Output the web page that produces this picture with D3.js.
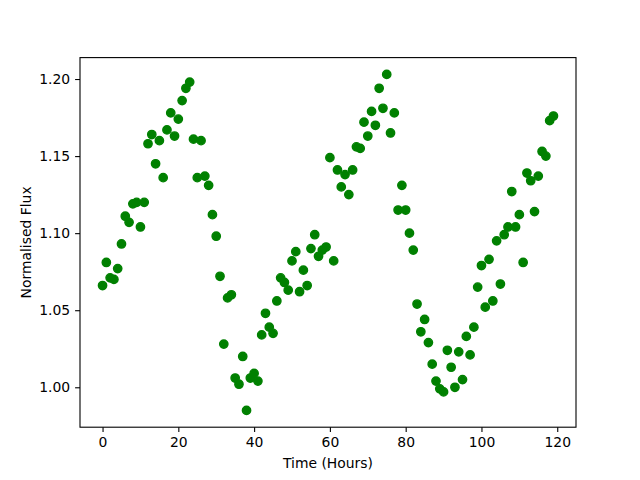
<!DOCTYPE html>
<html>
<head>
<meta charset="utf-8">
<script src="https://cdn.jsdelivr.net/npm/d3@7"></script>
<style>
   body { margin: 0; background: #fff; }
   text { font-family: "DejaVu Sans", sans-serif; fill: #000; }
   .tick text { font-size: 10pt; }
   .axisLabel { font-size: 10pt; }
</style>
</head>
<body>
<div id="chart"></div>
<script>
const width = 640;
const height = 480;

const margin = {
   top: 57.6,
   right: 64,
   bottom: 52.8,
   left: 80
};

// hours 0..119, one reading per hour
const hours = d3.range(0, 120);

const flux = [
   1.066, 1.081, 1.071, 1.070, 1.077, 1.093, 1.111, 1.107, 1.119, 1.120,
   1.104, 1.120, 1.158, 1.164, 1.145, 1.160, 1.136, 1.167, 1.178, 1.163,
   1.174, 1.186, 1.194, 1.198, 1.161, 1.136, 1.160, 1.137, 1.131, 1.112,
   1.098, 1.072, 1.028, 1.058, 1.060, 1.006, 1.002, 1.020, 0.985, 1.006,
   1.009, 1.004, 1.034, 1.048, 1.039, 1.035, 1.056, 1.071, 1.068, 1.063,
   1.082, 1.088, 1.062, 1.076, 1.066, 1.090, 1.099, 1.085, 1.089, 1.091,
   1.149, 1.082, 1.141, 1.130, 1.138, 1.125, 1.141, 1.156, 1.155, 1.172,
   1.163, 1.179, 1.170, 1.194, 1.181, 1.203, 1.165, 1.178, 1.115, 1.131,
   1.115, 1.100, 1.089, 1.054, 1.036, 1.044, 1.029, 1.015, 1.004, 0.999,
   0.997, 1.024, 1.013, 1.000, 1.023, 1.005, 1.033, 1.021, 1.039, 1.065,
   1.079, 1.052, 1.083, 1.056, 1.095, 1.067, 1.099, 1.104, 1.127, 1.104,
   1.112, 1.081, 1.139, 1.134, 1.114, 1.137, 1.153, 1.150, 1.173, 1.176
];

const xTicks = [0, 20, 40, 60, 80, 100, 120];
const yTicks = [1.00, 1.05, 1.10, 1.15, 1.20];

const xLabel = "Time (Hours)";
const yLabel = "Normalised Flux";

const points = hours.map((h, i) => ({ t: h, f: flux[i] }));

const svg = d3.select("#chart").append("svg")
   .attr("width", width)
   .attr("height", height);

// matplotlib style 5% padding on each side
function padded(ext) {
   const pad = (ext[1] - ext[0]) * 0.05;
   return [ext[0] - pad, ext[1] + pad];
}

const x = d3.scaleLinear()
   .domain(padded(d3.extent(hours)))
   .range([margin.left, width - margin.right]);

const y = d3.scaleLinear()
   .domain(padded(d3.extent(flux)))
   .range([height - margin.bottom, margin.top]);

// points
svg.append("g")
   .selectAll("circle")
   .data(points)
   .enter()
   .append("circle")
   .attr("cx", d => x(d.t))
   .attr("cy", d => y(d.f))
   .attr("r", 4.17)
   .style("fill", "#008000")
   .style("stroke", "#008000")
   .style("stroke-width", 1.39);

// axes
const xAxis = svg.append("g")
   .attr("transform", `translate(0,${height - margin.bottom})`)
   .call(d3.axisBottom(x).tickValues(xTicks).tickSize(4.9).tickPadding(4.9).tickFormat(d3.format("d")));

const yAxis = svg.append("g")
   .attr("transform", `translate(${margin.left},0)`)
   .call(d3.axisLeft(y).tickValues(yTicks).tickSize(4.9).tickPadding(4.9).tickFormat(d3.format(".2f")));

svg.selectAll(".domain").remove();
svg.selectAll(".tick line").attr("stroke", "#000").attr("stroke-width", 1.1);
svg.selectAll(".tick text").style("font-family", "DejaVu Sans").style("font-size", "13.9px");

// frame
svg.append("rect")
   .attr("x", margin.left)
   .attr("y", margin.top)
   .attr("width", width - margin.left - margin.right)
   .attr("height", height - margin.top - margin.bottom)
   .style("fill", "none")
   .style("stroke", "#000")
   .style("stroke-width", 1.1);

// axis labels
svg.append("text")
   .attr("class", "axisLabel")
   .attr("x", (margin.left + width - margin.right) / 2)
   .attr("y", 468)
   .style("text-anchor", "middle")
   .style("font-size", "13.9px")
   .text(xLabel);

svg.append("text")
   .attr("class", "axisLabel")
   .attr("transform", `translate(31,${(margin.top + height - margin.bottom) / 2}) rotate(-90)`)
   .style("text-anchor", "middle")
   .style("font-size", "13.9px")
   .text(yLabel);
</script>
</body>
</html>
